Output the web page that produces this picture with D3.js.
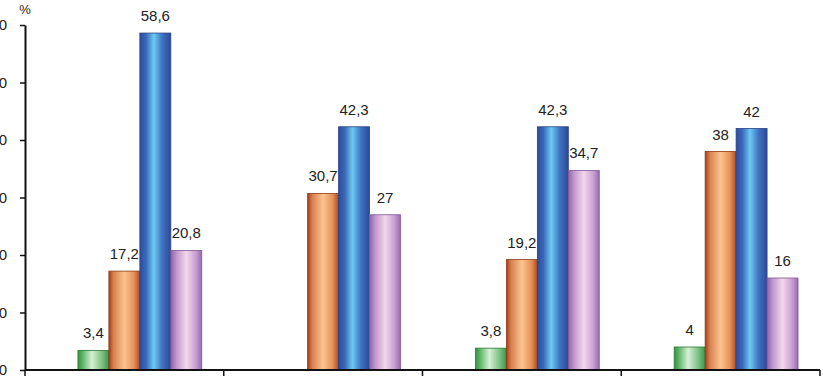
<!DOCTYPE html>
<html>
<head>
<meta charset="utf-8">
<script src="https://cdn.jsdelivr.net/npm/d3@7"></script>
<style>
  body { margin: 0; background: #fff; }
  svg { display: block; }
  text { font-family: "Liberation Sans", Arial, sans-serif; fill: #222; }
</style>
</head>
<body>
<div id="chart"></div>
<script>
// data
const categories = ["1", "2", "3", "4"];
const seriesKeys = ["empty", "green", "orange", "blue", "pink"];
const emptySeries = [null, null, null, null];
const greenValues = [3.4, null, 3.8, 4];
const orangeValues = [17.2, 30.7, 19.2, 38];
const blueValues = [58.6, 42.3, 42.3, 42];
const pinkValues = [20.8, 27, 34.7, 16];
const yTicks = [0, 10, 20, 30, 40, 50, 60];

const seriesValues = {
    empty: emptySeries,
    green: greenValues,
    orange: orangeValues,
    blue: blueValues,
    pink: pinkValues
};

// gradient stops for the cylinder look
const gradients = {
    green:  [["0", "#35913f"], ["0.15", "#5db566"], ["0.45", "#d8efd5"], ["0.78", "#7cc083"], ["1", "#3b9746"]],
    orange: [["0", "#a3401b"], ["0.15", "#d88050"], ["0.5", "#fbc48f"], ["0.8", "#e6925a"], ["1", "#ad4d1e"]],
    blue:   [["0", "#2e4c9e"], ["0.2", "#3a68b9"], ["0.45", "#6ccaf2"], ["0.72", "#3f73c1"], ["1", "#2d4998"]],
    pink:   [["0", "#9264aa"], ["0.2", "#c39ad0"], ["0.5", "#f3d6eb"], ["0.8", "#c9a1d3"], ["1", "#976aae"]]
};
const edgeColor = { green: "#2a7a33", orange: "#8e3815", blue: "#27428a", pink: "#84589a" };

const width = 823, height = 378;
const margin = {left: 25, right: 3, top: 25, bottom: 8};

const svg = d3.select("#chart").append("svg")
    .attr("width", width)
    .attr("height", height);

const defs = svg.append("defs");
Object.keys(gradients).forEach(k => {
    const g = defs.append("linearGradient")
        .attr("id", "grad-" + k)
        .attr("x1", 0).attr("x2", 1).attr("y1", 0).attr("y2", 0);
    gradients[k].forEach(s => g.append("stop").attr("offset", s[0]).attr("stop-color", s[1]));
});

// scales
const x = d3.scaleBand()
    .domain(categories)
    .range([margin.left, width - margin.right])
    .paddingInner(0).paddingOuter(0);

const xs = d3.scaleBand()
    .domain(seriesKeys)
    .range([0, x.bandwidth()])
    .paddingInner(0)
    .paddingOuter(0.71);

const y = d3.scaleLinear()
    .domain([0, 60])
    .range([height - margin.bottom, margin.top]);

const fmt = v => String(v).replace(".", ",");

// bars
const groups = svg.selectAll("g.group")
    .data(categories)
    .enter().append("g")
    .attr("class", "group")
    .attr("transform", d => `translate(${x(d)},0)`);

const barData = (c, i) => seriesKeys
    .filter(k => seriesValues[k][i] != null)
    .map(k => ({key: k, value: seriesValues[k][i]}));

groups.selectAll("rect")
    .data(barData)
    .enter().append("rect")
    .attr("x", d => xs(d.key))
    .attr("y", d => y(d.value))
    .attr("width", xs.bandwidth())
    .attr("height", d => y(0) - y(d.value))
    .attr("fill", d => `url(#grad-${d.key})`)
    .attr("stroke", d => edgeColor[d.key])
    .attr("stroke-width", 0.8);

groups.selectAll("text.val")
    .data(barData)
    .enter().append("text")
    .attr("class", "val")
    .attr("x", d => xs(d.key) + xs.bandwidth() / 2)
    .attr("y", d => y(d.value) - 12)
    .attr("text-anchor", "middle")
    .style("font-size", "15px")
    .text(d => fmt(d.value));

// y axis
const yAxis = svg.append("g")
    .attr("transform", `translate(${margin.left},0)`)
    .call(d3.axisLeft(y).tickValues(yTicks).tickSize(5).tickSizeOuter(0).tickPadding(13));
yAxis.select(".domain").attr("stroke", "#111").attr("stroke-width", 2);
yAxis.selectAll(".tick line").attr("stroke", "#111").attr("stroke-width", 1.5);
yAxis.selectAll(".tick text").style("font-size", "15px").attr("fill", "#222")
    .style("font-family", "\"Liberation Sans\", Arial, sans-serif");

// x axis with ticks at category boundaries
const xAxis = svg.append("g")
    .attr("transform", `translate(0,${y(0)})`);
xAxis.append("line")
    .attr("x1", margin.left).attr("x2", x.range()[1])
    .attr("stroke", "#111").attr("stroke-width", 2);
const bounds = categories.map(c => x(c)).concat([x(categories[categories.length - 1]) + x.bandwidth()]);
xAxis.selectAll("line.tick")
    .data(bounds)
    .enter().append("line")
    .attr("class", "tick")
    .attr("x1", d => d).attr("x2", d => d)
    .attr("y1", 0).attr("y2", 6)
    .attr("stroke", "#111").attr("stroke-width", 1.5);

// unit label
svg.append("text")
    .attr("x", margin.left)
    .attr("y", 14)
    .attr("text-anchor", "middle")
    .style("font-size", "13px")
    .text("%");
</script>
</body>
</html>
